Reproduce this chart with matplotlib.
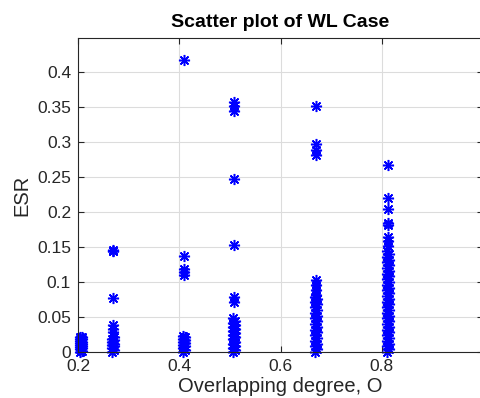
import matplotlib.pyplot as plt
import numpy as np

plt.rcParams['font.family'] = ['Liberation Sans', 'DejaVu Sans']

# overlapping degree of each group of cases (small spread inside a group)
x_mid = [0.205, 0.270, 0.410, 0.509, 0.670, 0.812]
x_lo = [0.203, 0.268, 0.408, 0.507, 0.668, 0.810]
x_hi = [0.207, 0.272, 0.412, 0.511, 0.672, 0.814]

# ESR values: isolated high values, then the dense bulk
peaks_020 = []
bulk_020 = [0.000, 0.002, 0.004, 0.005, 0.007, 0.009, 0.010, 0.012, 0.013,
            0.015, 0.016, 0.018, 0.019, 0.021, 0.022]
peaks_027 = [0.145, 0.144, 0.146, 0.077, 0.039, 0.033, 0.029]
bulk_027 = [0.000, 0.003, 0.005, 0.008, 0.010, 0.012, 0.015, 0.017, 0.019, 0.021]
peaks_041 = [0.418, 0.137, 0.118, 0.114, 0.110]
bulk_041 = [0.000, 0.003, 0.005, 0.008, 0.010, 0.013, 0.015, 0.017, 0.019,
            0.021, 0.023]
peaks_051 = [0.357, 0.352, 0.345, 0.248, 0.153, 0.079, 0.072]
bulk_051 = [0.000, 0.003, 0.006, 0.009, 0.012, 0.015, 0.018, 0.021, 0.024,
            0.027, 0.030, 0.033, 0.036, 0.039, 0.042, 0.045, 0.048]
peaks_067 = [0.352, 0.297, 0.289, 0.282, 0.103, 0.096, 0.089, 0.082]
bulk_067 = [0.000, 0.004, 0.008, 0.012, 0.016, 0.020, 0.024, 0.028, 0.032,
            0.036, 0.040, 0.044, 0.048, 0.052, 0.056, 0.060, 0.064, 0.068,
            0.072, 0.076, 0.079]
peaks_081 = [0.267, 0.220, 0.204, 0.185, 0.181, 0.165, 0.158, 0.151]
bulk_081 = [0.000, 0.004, 0.008, 0.012, 0.016, 0.020, 0.024, 0.028, 0.032,
            0.036, 0.040, 0.044, 0.048, 0.052, 0.056, 0.060, 0.064, 0.068,
            0.072, 0.076, 0.080, 0.084, 0.088, 0.092, 0.096, 0.100, 0.104,
            0.108, 0.112, 0.116, 0.120, 0.124, 0.128, 0.132, 0.136, 0.140, 0.144]
peaks = [peaks_020, peaks_027, peaks_041, peaks_051, peaks_067, peaks_081]
bulks = [bulk_020, bulk_027, bulk_041, bulk_051, bulk_067, bulk_081]

fig = plt.figure(figsize=(4.81, 3.98), dpi=100)
ax = fig.add_axes([0.1622, 0.1156, 0.842, 0.789])

grey = '#262626'
mk = dict(linestyle='none', marker=(8, 2, 0), markersize=8,
          markeredgewidth=1.1, color='#0000ff', clip_on=False)
for xm, lo, hi, pk, bk in zip(x_mid, x_lo, x_hi, peaks, bulks):
    ax.plot([xm] * len(pk), pk, **mk)
    xs = [lo if i % 2 == 0 else hi for i in range(len(bk))]
    ax.plot(xs, bk, **mk)

ax.set_xlim(0.2, 1.0)
ax.set_ylim(0, 0.449)
ax.set_xticks([0.2, 0.4, 0.6, 0.8, 1.0])
ax.set_xticklabels(['0.2', '0.4', '0.6', '0.8', '1'])
ax.set_yticks([0, 0.05, 0.1, 0.15, 0.2, 0.25, 0.3, 0.35, 0.4])
ax.set_yticklabels(['0', '0.05', '0.1', '0.15', '0.2', '0.25', '0.3', '0.35', '0.4'])
ax.grid(True, color='#dcdcdc', linewidth=0.8)
ax.set_axisbelow(True)
ax.tick_params(direction='in', length=4, width=0.8, colors=grey, labelsize=12.5,
               top=True, right=True, pad=5)
for s in ax.spines.values():
    s.set_color(grey)
    s.set_linewidth(0.8)

ax.set_xlabel('Overlapping degree, O', fontsize=14.5, color=grey, labelpad=2)
ax.set_ylabel('ESR', fontsize=14.5, color=grey, labelpad=4)
ax.set_title('Scatter plot of WL Case', fontsize=14, fontweight='bold', pad=8)

fig.savefig('out.png', dpi=100)
